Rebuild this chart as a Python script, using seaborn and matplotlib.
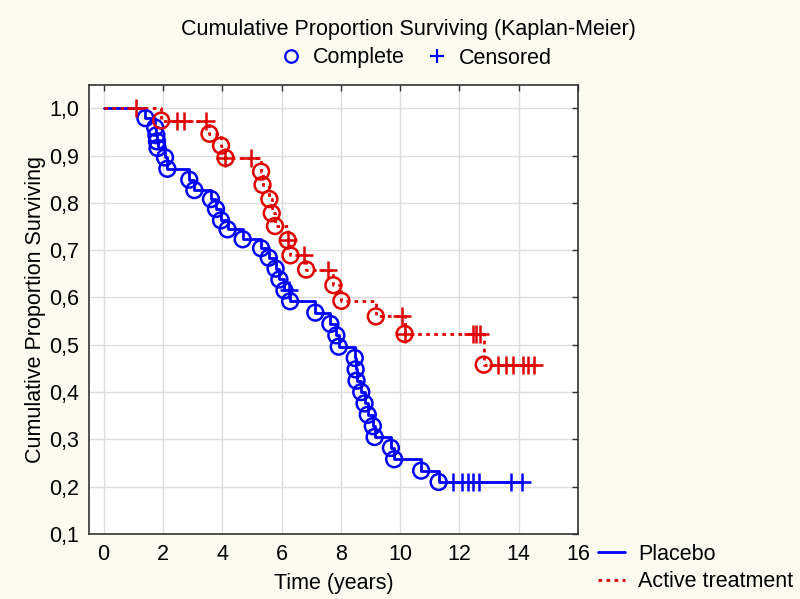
import numpy as np
import matplotlib
matplotlib.use("Agg")
import matplotlib.pyplot as plt
from matplotlib.lines import Line2D
from matplotlib.ticker import FuncFormatter
import seaborn as sns

# Placebo group: event times and survival after each event, censored times
placebo_event_t = [1.41, 1.74, 1.78, 1.80, 1.82, 2.07, 2.15, 2.89, 3.06, 3.62,
                   3.79, 3.96, 4.18, 4.69, 5.31, 5.57, 5.80, 5.93, 6.10, 6.29,
                   7.14, 7.65, 7.85, 7.93, 8.47, 8.50, 8.53, 8.69, 8.80, 8.91,
                   9.08, 9.14, 9.69, 9.80, 10.71, 11.30]
placebo_event_s = [0.979, 0.959, 0.943, 0.930, 0.916, 0.896, 0.872, 0.849, 0.827, 0.808,
                   0.787, 0.763, 0.744, 0.723, 0.704, 0.684, 0.661, 0.638, 0.615, 0.592,
                   0.568, 0.544, 0.520, 0.496, 0.472, 0.448, 0.424, 0.400, 0.376, 0.352,
                   0.328, 0.305, 0.282, 0.258, 0.234, 0.210]
placebo_cens_t = [6.25, 11.80, 12.09, 12.28, 12.47, 12.65, 13.74, 14.12]

# Active treatment group
active_event_t = [1.94, 3.57, 3.96, 4.11, 5.31, 5.36, 5.59, 5.67, 5.78, 6.21,
                  6.30, 6.83, 7.75, 8.02, 9.18, 10.15, 12.82]
active_event_s = [0.974, 0.946, 0.921, 0.895, 0.866, 0.838, 0.808, 0.778, 0.751, 0.721,
                  0.689, 0.659, 0.626, 0.593, 0.560, 0.523, 0.458]
active_cens_t = [1.10, 2.47, 2.72, 3.45, 4.11, 4.97, 6.21, 6.77, 7.56, 10.06,
                 10.15, 12.45, 12.56, 12.68, 13.29, 13.58, 13.80, 14.16, 14.33, 14.50]

x_ticks = [0, 2, 4, 6, 8, 10, 12, 14, 16]
y_ticks = [0.1, 0.2, 0.3, 0.4, 0.5, 0.6, 0.7, 0.8, 0.9, 1.0]

BLUE = "#0000ff"
RED = "#e00000"
BG = "#fcfbef"
DOTS = (0, (1.3, 1.6))

sns.set_theme(style="white")
plt.rcParams["font.family"] = ["Liberation Sans", "DejaVu Sans"]
plt.rcParams["text.color"] = "black"
plt.rcParams["axes.labelcolor"] = "black"
FS = 15.5


def step_curve(event_t, event_s, cens_t):
    """Kaplan-Meier style step line from 0 to the last observation"""
    end = max(max(event_t), max(cens_t))
    xs = [0.0] + list(event_t) + [end]
    ys = [1.0] + list(event_s) + [event_s[-1]]
    return xs, ys


def cens_level(event_t, event_s, cens_t):
    idx = np.searchsorted(np.array(event_t), np.array(cens_t), side="right")
    s = np.concatenate([[1.0], event_s])
    return s[idx]


fig = plt.figure(figsize=(8, 5.99), dpi=100, facecolor=BG)
ax = fig.add_axes([0.111, 0.1085, 0.6115, 0.7495])
ax.set_facecolor("white")

groups = [
    ("Placebo", placebo_event_t, placebo_event_s, placebo_cens_t, BLUE, "-"),
    ("Active treatment", active_event_t, active_event_s, active_cens_t, RED, DOTS),
]

for name, et, es, ct, col, ls in groups:
    xs, ys = step_curve(et, es, ct)
    sns.lineplot(x=xs, y=ys, ax=ax, color=col, linewidth=2, linestyle=ls,
                 drawstyle="steps-post", estimator=None, sort=False, zorder=3)
    sns.scatterplot(x=et, y=es, ax=ax, marker="o", s=130, facecolors="none",
                    edgecolor=col, linewidth=1.8, zorder=4)
    sns.scatterplot(x=ct, y=cens_level(et, es, ct), ax=ax, marker="+", s=150,
                    color=col, linewidth=1.8, zorder=4)

ax.set_xlim(-0.5, 16)
ax.set_ylim(0.1, 1.049)
ax.set_xticks(x_ticks)
ax.set_yticks(y_ticks)
ax.yaxis.set_major_formatter(FuncFormatter(lambda v, p: f"{v:.1f}".replace(".", ",")))
ax.grid(True, color="#dedede", linewidth=1)
ax.set_axisbelow(True)
ax.tick_params(direction="in", length=4, width=1, top=True, right=True,
               labelsize=FS, pad=7, colors="#333333", labelcolor="black")
for sp in ax.spines.values():
    sp.set_color("#333333")
    sp.set_linewidth(1.2)

ax.set_xlabel("Time (years)", fontsize=FS, labelpad=6)
ax.set_ylabel("Cumulative Proportion Surviving", fontsize=FS, labelpad=2)

fig.text(0.51, 1 - 30 / 599, "Cumulative Proportion Surviving (Kaplan-Meier)",
         ha="center", va="center", fontsize=FS)

top_handles = [
    Line2D([], [], marker="o", ls="none", mfc="none", mec=BLUE, mew=1.6, ms=9),
    Line2D([], [], marker="+", ls="none", color=BLUE, mew=1.6, ms=10),
]
fig.legend(top_handles, ["Complete", "Censored"], ncol=2, loc="center",
           bbox_to_anchor=(0.52, 1 - 58 / 599), frameon=False, fontsize=FS,
           handlelength=1.0, handletextpad=0.5, columnspacing=1.0)

side_handles = [
    Line2D([], [], color=BLUE, lw=2, ls="-"),
    Line2D([], [], color=RED, lw=2, ls=DOTS),
]
fig.legend(side_handles, ["Placebo", "Active treatment"], loc="upper left",
           bbox_to_anchor=(0.748, 1 - 544 / 599), frameon=False, fontsize=FS,
           handlelength=1.25, handletextpad=0.6, labelspacing=0.3,
           borderaxespad=0, borderpad=0)

fig.savefig("out.png", dpi=100, facecolor=BG)
